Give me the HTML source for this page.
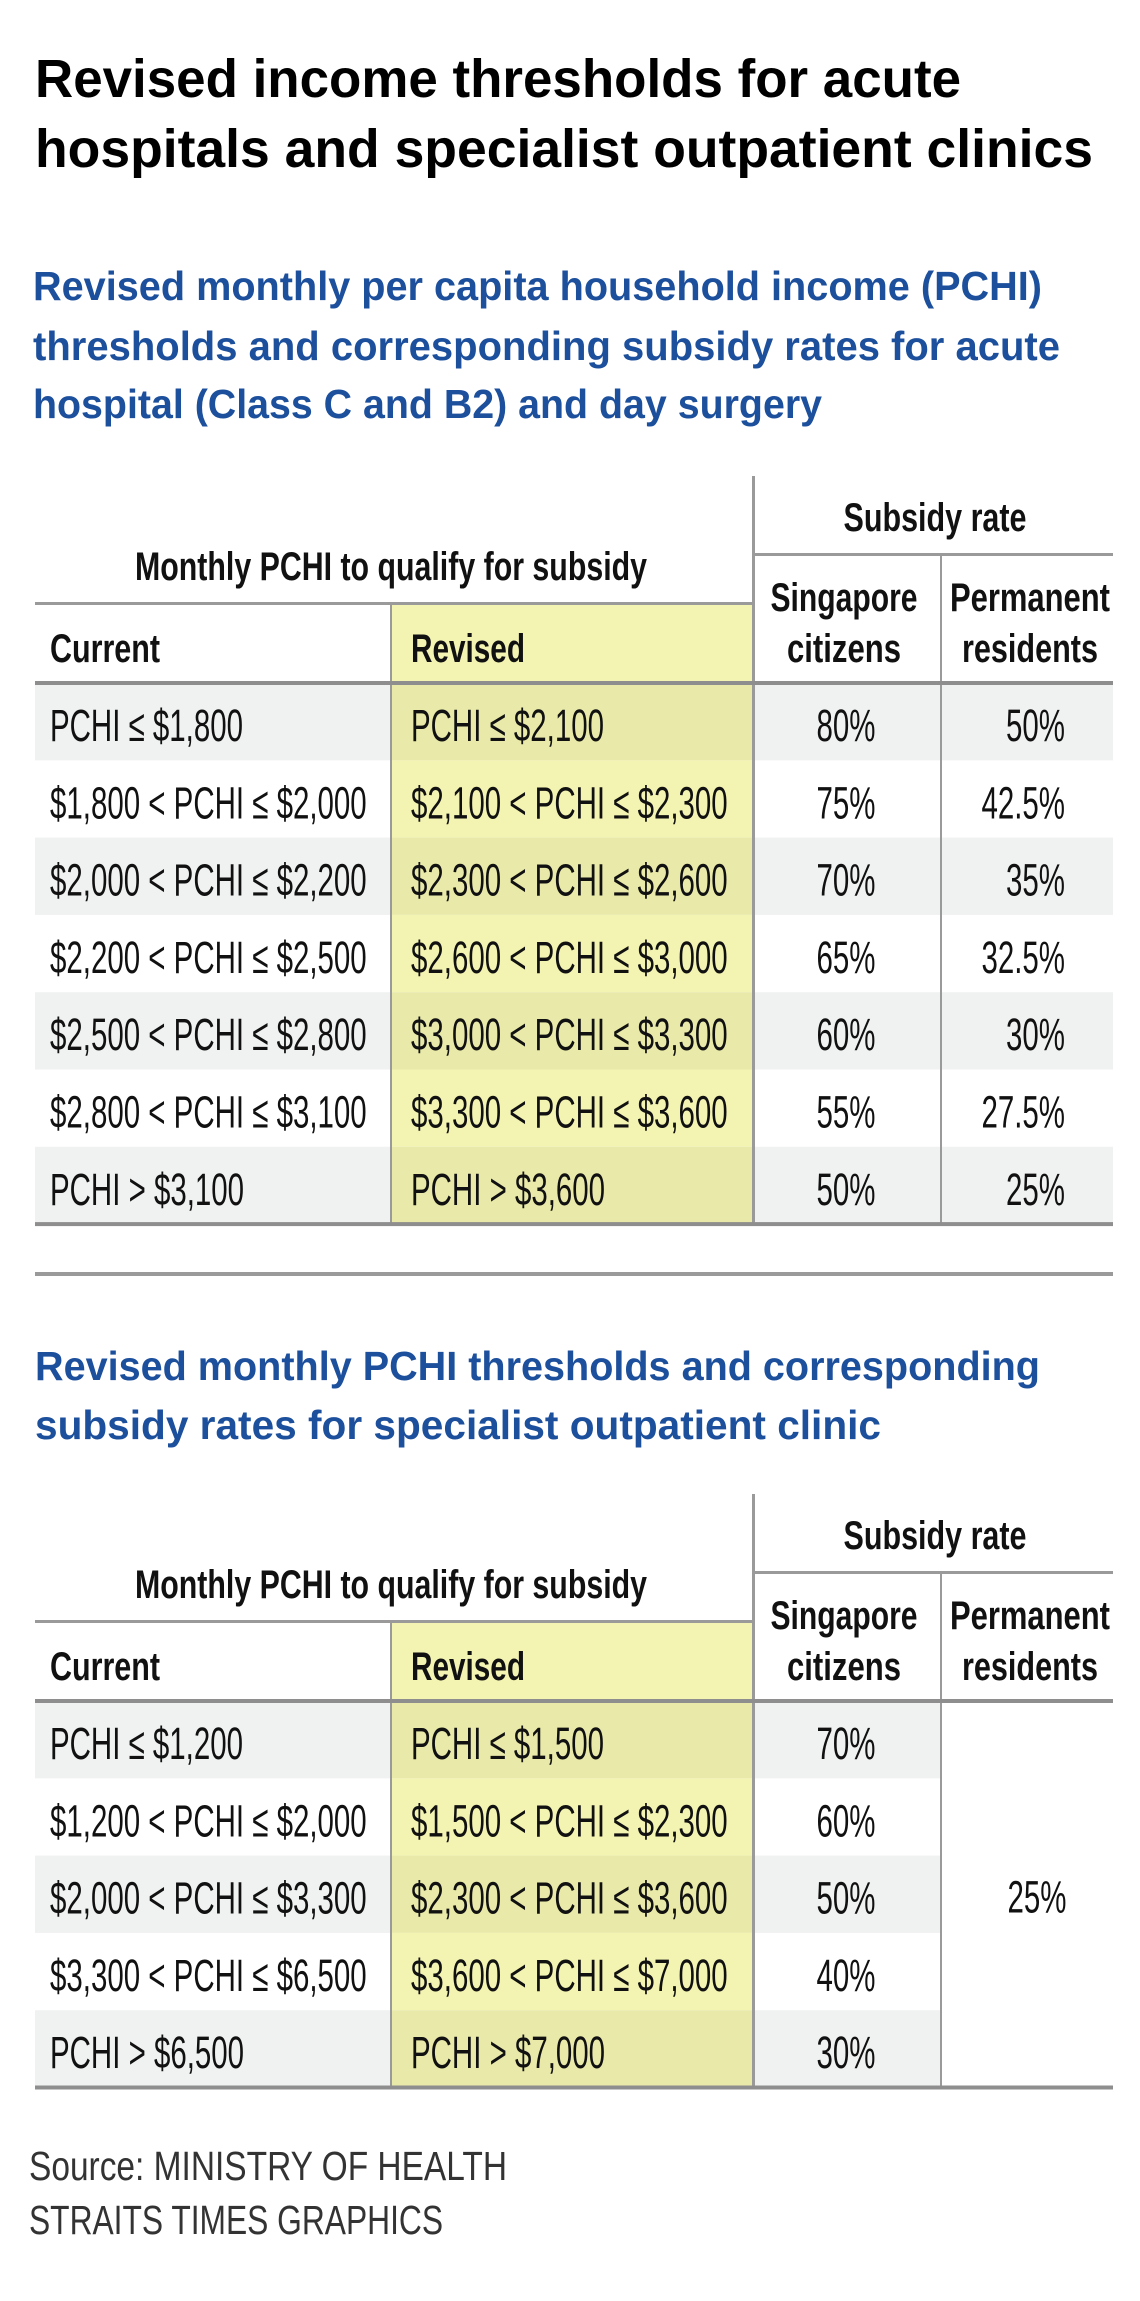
<!DOCTYPE html>
<html><head><meta charset="utf-8"><style>
html,body{margin:0;padding:0;background:#fff;width:1140px;height:2301px;overflow:hidden}
svg text{font-family:"Liberation Sans",sans-serif}
</style></head><body>
<svg width="1140" height="2301" viewBox="0 0 1140 2301" xmlns="http://www.w3.org/2000/svg">
<text x="35" y="97" font-size="54" font-weight="bold" fill="#000" textLength="926" lengthAdjust="spacingAndGlyphs">Revised income thresholds for acute</text>
<text x="35" y="167" font-size="54" font-weight="bold" fill="#000" textLength="1058" lengthAdjust="spacingAndGlyphs">hospitals and specialist outpatient clinics</text>
<g fill="#1c4f9c" font-size="41" font-weight="bold">
<text x="33" y="300" textLength="1009" lengthAdjust="spacingAndGlyphs">Revised monthly per capita household income (PCHI)</text>
<text x="33" y="360" textLength="1027" lengthAdjust="spacingAndGlyphs">thresholds and corresponding subsidy rates for acute</text>
<text x="33" y="418" textLength="789" lengthAdjust="spacingAndGlyphs">hospital (Class C and B2) and day surgery</text>
</g>
<g id="t1"></g>
<rect x="35" y="1272" width="1078" height="4" fill="#9a9a9a"/>
<g fill="#1c4f9c" font-size="41" font-weight="bold">
<text x="35" y="1380" textLength="1005" lengthAdjust="spacingAndGlyphs">Revised monthly PCHI thresholds and corresponding</text>
<text x="35" y="1439" textLength="846" lengthAdjust="spacingAndGlyphs">subsidy rates for specialist outpatient clinic</text>
</g>
<g id="t2"></g>
<text x="29" y="2180" font-size="41" fill="#333" textLength="478" lengthAdjust="spacingAndGlyphs">Source: MINISTRY OF HEALTH</text>
<text x="29" y="2234" font-size="41" fill="#333" textLength="414" lengthAdjust="spacingAndGlyphs">STRAITS TIMES GRAPHICS</text>
</svg>
<script>
const t1Current=["PCHI ≤ $1,800","$1,800 < PCHI ≤ $2,000","$2,000 < PCHI ≤ $2,200","$2,200 < PCHI ≤ $2,500","$2,500 < PCHI ≤ $2,800","$2,800 < PCHI ≤ $3,100","PCHI > $3,100"];
const t1Revised=["PCHI ≤ $2,100","$2,100 < PCHI ≤ $2,300","$2,300 < PCHI ≤ $2,600","$2,600 < PCHI ≤ $3,000","$3,000 < PCHI ≤ $3,300","$3,300 < PCHI ≤ $3,600","PCHI > $3,600"];
const t1Citizen=["80%","75%","70%","65%","60%","55%","50%"];
const t1PR=["50%","42.5%","35%","32.5%","30%","27.5%","25%"];
const t2Current=["PCHI ≤ $1,200","$1,200 < PCHI ≤ $2,000","$2,000 < PCHI ≤ $3,300","$3,300 < PCHI ≤ $6,500","PCHI > $6,500"];
const t2Revised=["PCHI ≤ $1,500","$1,500 < PCHI ≤ $2,300","$2,300 < PCHI ≤ $3,600","$3,600 < PCHI ≤ $7,000","PCHI > $7,000"];
const t2Citizen=["70%","60%","50%","40%","30%"];
const t2PR="25%";
const NS="http://www.w3.org/2000/svg";
function mk(parent,tag,attrs,txt){const e=document.createElementNS(NS,tag);for(const k in attrs)e.setAttribute(k,attrs[k]);if(txt!==undefined)e.textContent=txt;parent.appendChild(e);return e;}
const L=35,RV=391,DV=753,PR=941,R=1113,RH=77.3;
function cellText(g,x,y,s,anchor){
  const grp=mk(g,'g',{transform:`translate(${x},${y}) scale(0.655,1)`});
  return mk(grp,'text',{x:0,y:0,'font-size':45,'text-anchor':anchor||'start',fill:'#111'},s);
}
function table(g,top,cur,rev,cit,pr){
  const sub=top+78, mon=top+127, hb=top+207, n=cur.length, bot=hb+RH*n;
  mk(g,'rect',{x:RV,y:mon,width:DV-RV,height:hb-mon,fill:'#f3f3b2'});
  for(let i=0;i<n;i++){
    const y=hb+RH*i;
    if(i%2===0){
      const s=mk(g,'rect',{x:L,y:y,width:R-L,height:RH,fill:'#f0f1f1'});
      
      
    }
    const yc=mk(g,'rect',{x:RV,y:y,width:DV-RV,height:RH,fill:i%2===0?'#e9eaa9':'#f3f3b2'});
    
    
  }
  if(!Array.isArray(pr)){ mk(g,'rect',{x:PR,y:hb,width:R-PR,height:bot-hb,fill:'#fff'}); }
  mk(g,'rect',{x:DV-1,y:top,width:3,height:bot-top,fill:'#9a9a9a'});
  mk(g,'rect',{x:DV,y:sub-1,width:R-DV,height:3,fill:'#9a9a9a'});
  mk(g,'rect',{x:L,y:mon-1,width:DV-L,height:3,fill:'#9a9a9a'});
  mk(g,'rect',{x:PR-1,y:sub,width:2,height:bot-sub,fill:'#9a9a9a'});
  mk(g,'rect',{x:RV-1,y:mon,width:2,height:bot-mon,fill:'#9a9a9a'});
  mk(g,'rect',{x:L,y:hb-2,width:R-L,height:4,fill:'#8e8e8e'});
  mk(g,'rect',{x:L,y:bot-2,width:R-L,height:4,fill:'#8e8e8e'});
  const h=(x,y,s,len,anchor,name)=>{const t=mk(g,'text',{x:x,y:y,'font-size':40,'font-weight':'bold',fill:'#111','text-anchor':anchor,textLength:len,lengthAdjust:'spacingAndGlyphs'},s);
    
    };
  h(391,top+104,'Monthly PCHI to qualify for subsidy',512,'middle','monthly-pchi-header');
  h(935,top+55,'Subsidy rate',183,'middle','subsidy-rate-header');
  h(844,top+135,'Singapore',147,'middle','citizens-header-1');
  h(844,top+186,'citizens',114,'middle','citizens-header-2');
  h(1030,top+135,'Permanent',160,'middle','pr-header-1');
  h(1030,top+186,'residents',136,'middle','pr-header-2');
  h(50,top+186,'Current',110,'start','current-header');
  h(411,top+186,'Revised',114,'start','revised-header');
  for(let i=0;i<n;i++){
    const by=hb+RH*i+58;
    const a=cellText(g,50,by,cur[i]);
    
    
    const b=cellText(g,411,by,rev[i]);
    
    
    const c=cellText(g,846,by,cit[i],'middle');
    
    
    if(Array.isArray(pr)){
      const d=cellText(g,1065,by,pr[i],'end');
      
      
    }
  }
  if(!Array.isArray(pr)){
    const d=cellText(g,1037,hb+RH*n/2+18,pr,'middle');
    
    
  }
}
table(document.getElementById('t1'),476,t1Current,t1Revised,t1Citizen,t1PR);
table(document.getElementById('t2'),1494,t2Current,t2Revised,t2Citizen,t2PR);
</script>
</body></html>
